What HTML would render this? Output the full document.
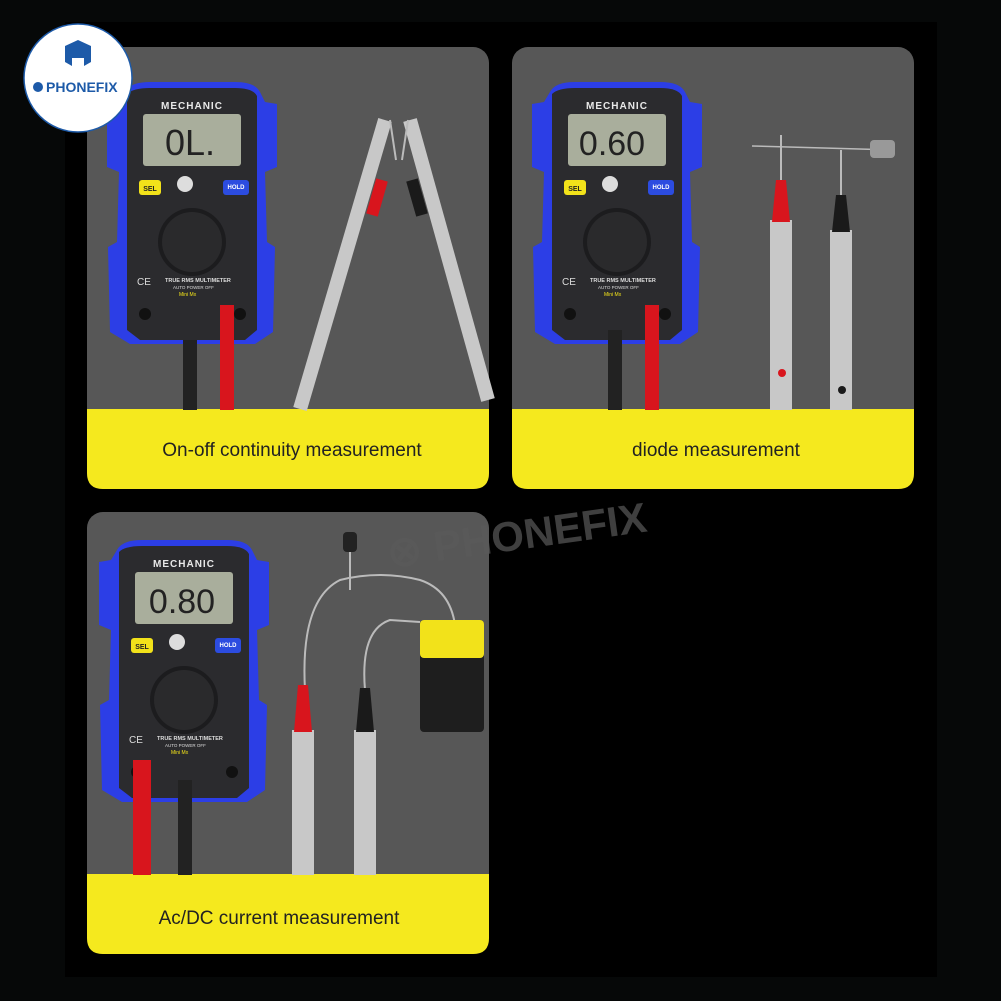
<!DOCTYPE html>
<html><head><meta charset="utf-8"><style>
html,body{margin:0;padding:0;background:#060808;}
svg{display:block}
text{font-family:"Liberation Sans",sans-serif}
</style></head><body>
<svg width="1001" height="1001" viewBox="0 0 1001 1001" xmlns="http://www.w3.org/2000/svg">
<defs>
<g id="meter">
  <path d="M20 10 Q25 0 45 0 L130 0 Q150 0 155 10 L160 20 L172 22 L172 85 L160 90 L162 160 L170 165 L168 250 L150 262 L25 262 L5 250 L3 165 L12 160 L14 90 L2 85 L2 22 L14 20 Z" fill="#2c3ee6"/>
  <path d="M22 12 Q28 6 45 6 L130 6 Q148 6 152 14 L152 248 L140 258 L35 258 L22 248 Z" fill="#2b2b2e"/>
  <text x="87" y="27" font-size="10" font-weight="bold" fill="#e8e8e8" text-anchor="middle" letter-spacing="1">MECHANIC</text>
  <rect x="38" y="32" width="98" height="52" rx="3" fill="#a9ae9c"/>
  <rect x="34" y="98" width="22" height="15" rx="3" fill="#f2e21a"/>
  <text x="45" y="109" font-size="7" font-weight="bold" fill="#222" text-anchor="middle">SEL</text>
  <rect x="118" y="98" width="26" height="15" rx="3" fill="#2c4ce0"/>
  <text x="131" y="107" font-size="6" font-weight="bold" fill="#fff" text-anchor="middle">HOLD</text>
  <circle cx="80" cy="102" r="8" fill="#ddd"/>
  <circle cx="87" cy="160" r="34" fill="#1c1c1e"/>
  <circle cx="87" cy="160" r="30" fill="#2a2a2c"/>
  <text x="60" y="200" font-size="5.5" font-weight="bold" fill="#ddd">TRUE RMS MULTIMETER</text>
  <text x="68" y="207" font-size="4.5" fill="#ddd">AUTO POWER OFF</text>
  <text x="74" y="214" font-size="5" fill="#f2e21a">Mini Mx</text>
  <text x="32" y="203" font-size="10" fill="#ddd">CE</text>
  <circle cx="40" cy="232" r="6" fill="#111"/>
  <circle cx="135" cy="232" r="6" fill="#111"/>
</g>
</defs>
<rect x="65" y="22" width="872" height="955" fill="#000"/>

<rect x="87" y="47" width="402" height="442" rx="16" fill="#575757"/>
<rect x="512" y="47" width="402" height="442" rx="16" fill="#575757"/>
<rect x="87" y="512" width="402" height="442" rx="16" fill="#575757"/>
<path d="M87 409 H489 V473 Q489 489 473 489 H103 Q87 489 87 473 Z" fill="#f5e91e"/>
<path d="M512 409 H914 V473 Q914 489 898 489 H528 Q512 489 512 473 Z" fill="#f5e91e"/>
<path d="M87 874 H489 V938 Q489 954 473 954 H103 Q87 954 87 938 Z" fill="#f5e91e"/>
<text x="292" y="456" font-size="19" fill="#222" text-anchor="middle">On-off continuity measurement</text>
<text x="716" y="456" font-size="19" fill="#222" text-anchor="middle">diode measurement</text>
<text x="279" y="924" font-size="19" fill="#222" text-anchor="middle">Ac/DC current measurement</text>

<use href="#meter" transform="translate(105,82)"/>
<text x="190" y="155" font-size="36" fill="#222" text-anchor="middle" font-family="Liberation Mono">0L.</text>
<rect x="183" y="340" width="14" height="70" fill="#222"/>
<rect x="220" y="305" width="14" height="105" fill="#d8151d"/>
<path d="M385 120 L300 409" stroke="#c8c8c8" stroke-width="14"/>
<path d="M410 120 L488 400" stroke="#c8c8c8" stroke-width="14"/>
<path d="M382 180 L372 215" stroke="#d8151d" stroke-width="12"/>
<path d="M412 180 L422 215" stroke="#1a1a1a" stroke-width="12"/>
<path d="M390 120 L396 160 M408 120 L402 160" stroke="#bbb" stroke-width="2"/>

<use href="#meter" transform="translate(530,82)"/>
<text x="612" y="155" font-size="34" fill="#222" text-anchor="middle" font-family="Liberation Mono">0.60</text>
<rect x="608" y="330" width="14" height="80" fill="#222"/>
<rect x="645" y="305" width="14" height="105" fill="#d8151d"/>
<line x1="752" y1="146" x2="895" y2="150" stroke="#bbb" stroke-width="1.5"/>
<rect x="870" y="140" width="25" height="18" rx="4" fill="#999"/>
<rect x="770" y="220" width="22" height="190" fill="#c8c8c8"/>
<rect x="830" y="230" width="22" height="180" fill="#c8c8c8"/>
<path d="M772 222 L776 180 L786 180 L790 222 Z" fill="#d8151d"/>
<path d="M832 232 L836 195 L846 195 L850 232 Z" fill="#1a1a1a"/>
<line x1="781" y1="180" x2="781" y2="135" stroke="#bbb" stroke-width="2"/>
<line x1="841" y1="195" x2="841" y2="150" stroke="#bbb" stroke-width="2"/>
<circle cx="782" cy="373" r="4" fill="#d8151d"/>
<circle cx="842" cy="390" r="4" fill="#1a1a1a"/>

<use href="#meter" transform="translate(97,540)"/>
<text x="182" y="613" font-size="34" fill="#222" text-anchor="middle" font-family="Liberation Mono">0.80</text>
<rect x="133" y="760" width="18" height="115" fill="#d8151d"/>
<rect x="178" y="780" width="14" height="95" fill="#222"/>
<path d="M305 690 Q300 600 340 580 Q380 570 420 580 Q450 590 455 625" fill="none" stroke="#bbb" stroke-width="2"/>
<path d="M365 690 Q360 630 390 620 L420 622" fill="none" stroke="#bbb" stroke-width="2"/>
<line x1="350" y1="545" x2="350" y2="590" stroke="#bbb" stroke-width="2"/>
<rect x="343" y="532" width="14" height="20" rx="4" fill="#222"/>
<rect x="420" y="620" width="64" height="112" rx="4" fill="#1e1e1e"/>
<rect x="420" y="620" width="64" height="38" rx="4" fill="#f2e21a"/>
<rect x="292" y="730" width="22" height="145" fill="#c8c8c8"/>
<rect x="354" y="730" width="22" height="145" fill="#c8c8c8"/>
<path d="M294 732 L298 685 L308 685 L312 732 Z" fill="#d8151d"/>
<path d="M356 732 L360 688 L370 688 L374 732 Z" fill="#1a1a1a"/>

<text x="385" y="552" font-size="42" font-weight="bold" fill="#5a5a5a" fill-opacity="0.7" transform="rotate(-8 500 530)">⊗ PHONEFIX</text>

<circle cx="78" cy="78" r="54" fill="#fff" stroke="#1d5aa8" stroke-width="1.5"/>
<path d="M65 46 L78 40 L91 46 L91 62 L84 66 L84 58 L72 58 L72 66 L65 62 Z" fill="#1d5aa8"/>
<circle cx="38" cy="87" r="5" fill="#1d5aa8"/>
<text x="46" y="92" font-size="14" font-weight="bold" fill="#1d5aa8">PHONEFIX</text>
</svg>
</body></html>
